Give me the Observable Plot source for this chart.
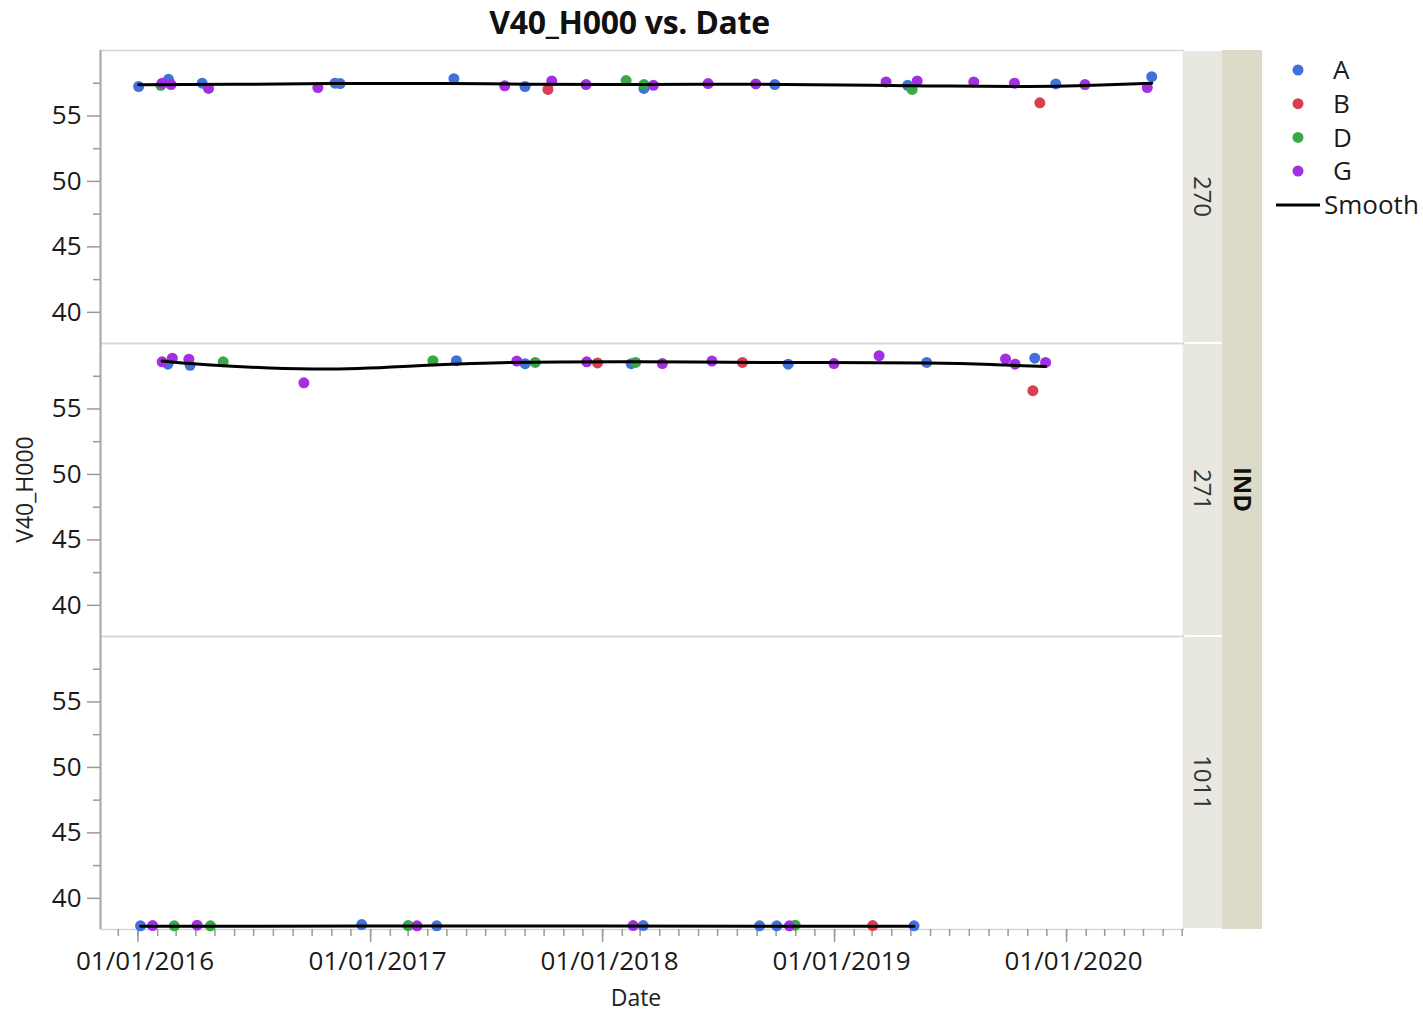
<!DOCTYPE html>
<html>
<head>
<meta charset="utf-8">
<script src="https://cdn.jsdelivr.net/npm/d3@7"></script>
<script src="https://cdn.jsdelivr.net/npm/@observablehq/plot@0.6"></script>
<style>
  body { margin: 0; background: #fff; font-family: "Open Sans", sans-serif; }
  #wrap { position: relative; width: 1423px; height: 1012px; }
  #title { position: absolute; left: 88px; width: 1083px; top: 2px; height: 40px; text-align: center;
           font-weight: bold; font-size: 32px; line-height: 40px; color: #111; letter-spacing: -0.3px; }
  #chart { position: absolute; left: 0; top: 40px; }
  #xtitle { position: absolute; left: 536px; width: 200px; top: 982px; height: 30px; text-align: center;
            font-size: 23px; line-height: 30px; color: #222; }
</style>
</head>
<body>
<div id="wrap">
  <div id="title">V40_H000 vs. Date</div>
  <div id="chart"></div>
  <div id="xtitle">Date</div>
</div>
<script>
// ---- categories ----
const groups = ["A", "B", "D", "G"];
const groupColors = ["#4172dc", "#d9404f", "#39a845", "#a22fe0"];
const panels = ["270", "271", "1011"];
const facetTitle = "IND";
const yTicks = [40, 45, 50, 55];
const yMinorTicks = [42.5, 47.5, 52.5, 57.5];
const xTicks = ["2016-01-01", "2017-01-01", "2018-01-01", "2019-01-01", "2020-01-01"];
const xDomain = ["2015-11-03", "2020-07-03"];
const yDomain = [37.62, 60.0];

// ---- panel 270 ----
const p270Date = ["2016-01-02","2016-02-18","2016-04-11","2016-11-06","2016-11-14","2017-05-12","2017-09-01","2018-03-07","2018-09-29","2019-04-26","2019-12-15","2020-05-14",
  "2017-10-07","2019-11-20",
  "2016-02-06","2018-02-07","2018-03-07","2019-05-03",
  "2016-02-08","2016-02-22","2016-04-21","2016-10-10","2017-07-31","2017-10-13","2017-12-06","2018-03-22","2018-06-16","2018-08-30","2019-03-23","2019-05-11","2019-08-08","2019-10-11","2020-01-30","2020-05-07"];
const p270Group = ["A","A","A","A","A","A","A","A","A","A","A","A",
  "B","B",
  "D","D","D","D",
  "G","G","G","G","G","G","G","G","G","G","G","G","G","G","G","G"];
const p270Value = [57.25,57.8,57.5,57.5,57.47,57.85,57.25,57.1,57.4,57.34,57.45,58.0,
  57.03,56.0,
  57.34,57.7,57.4,57.03,
  57.5,57.4,57.1,57.17,57.3,57.67,57.4,57.34,57.47,57.45,57.6,57.67,57.6,57.5,57.4,57.17];

// ---- panel 271 ----
const p271Date = ["2016-02-17","2016-03-23","2017-05-16","2017-09-01","2018-02-15","2018-10-20","2019-05-26","2019-11-12",
  "2017-12-24","2018-08-09","2019-11-09",
  "2016-05-14","2017-04-09","2017-09-17","2018-02-22",
  "2016-02-08","2016-02-24","2016-03-21","2016-09-18","2017-08-19","2017-12-07","2018-04-05","2018-06-22","2018-12-31","2019-03-12","2019-09-27","2019-10-12","2019-11-29"];
const p271Group = ["A","A","A","A","A","A","A","A",
  "B","B","B",
  "D","D","D","D",
  "G","G","G","G","G","G","G","G","G","G","G","G","G"];
const p271Value = [58.42,58.33,58.69,58.46,58.46,58.42,58.55,58.88,
  58.52,58.55,56.4,
  58.6,58.69,58.55,58.55,
  58.6,58.88,58.8,57.0,58.66,58.6,58.47,58.66,58.47,59.07,58.82,58.42,58.55];

// ---- panel 1011 ----
const p1011Date = ["2016-01-05","2016-12-18","2017-04-15","2018-03-06","2018-09-05","2018-10-02","2019-05-06",
  "2019-03-02",
  "2016-02-27","2016-04-24","2017-03-01","2018-10-31",
  "2016-01-24","2016-04-03","2017-03-15","2018-02-18","2018-10-22"];
const p1011Group = ["A","A","A","A","A","A","A",
  "B",
  "D","D","D","D",
  "G","G","G","G","G"];
const p1011Value = [37.9,38.0,37.9,37.92,37.9,37.9,37.9,
  37.92,
  37.9,37.9,37.92,37.95,
  37.92,37.95,37.9,37.92,37.9];

// ---- smooth curves ----
const s270Date = ["2016-01-02","2016-06-01","2016-11-01","2017-05-01","2017-09-01","2018-03-01","2018-09-01","2019-03-01","2019-07-01","2019-11-01","2020-02-01","2020-05-14"];
const s270Value = [57.39,57.42,57.47,57.48,57.42,57.40,57.42,57.35,57.28,57.25,57.32,57.5];
const s271Date = ["2016-02-08","2016-04-18","2016-10-01","2017-02-21","2017-07-12","2018-02-23","2018-10-01","2019-05-26","2019-09-13","2019-11-29"];
const s271Value = [58.66,58.38,58.05,58.25,58.52,58.6,58.55,58.52,58.38,58.25];
const s1011Date = ["2016-01-05","2017-01-01","2018-01-01","2019-05-06"];
const s1011Value = [37.86,37.88,37.88,37.87];

// ---- build tables ----
const pts = [];
const smooth = [];
function addPts(panel, ds, gs, vs) { ds.forEach((d, i) => pts.push({panel, date: new Date(d), group: gs[i], value: vs[i]})); }
function addSmooth(panel, ds, vs) { ds.forEach((d, i) => smooth.push({panel, date: new Date(d), value: vs[i]})); }
addPts("270", p270Date, p270Group, p270Value);
addPts("271", p271Date, p271Group, p271Value);
addPts("1011", p1011Date, p1011Group, p1011Value);
addSmooth("270", s270Date, s270Value);
addSmooth("271", s271Date, s271Value);
addSmooth("1011", s1011Date, s1011Value);

const W = 1423, H = 942;
const chart = Plot.plot({
  width: W, height: H,
  marginTop: 10, marginLeft: 100, marginRight: 240, marginBottom: 53,
  style: {fontFamily: "Open Sans, sans-serif", fontSize: "26px", color: "#1a1a1a", background: "transparent"},
  x: {type: "utc", domain: xDomain.map(d => new Date(d))},
  y: {domain: yDomain},
  fy: {domain: panels, padding: 0, axis: null},
  color: {domain: groups, range: groupColors},
  marks: [
    Plot.frame({stroke: "#d6d6d6", strokeWidth: 1.5}),
    Plot.ruleX([new Date(xDomain[0])], {stroke: "#a8a8a8", strokeWidth: 2}),
    Plot.axisY({ticks: yTicks, tickSize: 13, tickPadding: 6, label: null, stroke: "#9a9a9a", strokeWidth: 1.5, fontSize: 26, fill: "#1a1a1a"}),
    Plot.axisY({ticks: yMinorTicks, tickSize: 7, text: null, label: null, stroke: "#9a9a9a", strokeWidth: 1.5}),
    Plot.axisX({ticks: xTicks.map(d => new Date(d)), tickSize: 13, text: null, label: null, stroke: "#9a9a9a", strokeWidth: 1.5}),
    Plot.axisX({ticks: xTicks.map(d => new Date(d)), tickFormat: d3.utcFormat("%m/%d/%Y"), tickSize: 0, tickPadding: 22, dx: 7, label: null, fontSize: 26, fill: "#1a1a1a"}),
    Plot.axisX({ticks: d3.utcMonth.every(1), tickSize: 7, text: null, label: null, stroke: "#9a9a9a", strokeWidth: 1.5}),
    Plot.dot(pts, {x: "date", y: "value", fy: "panel", fill: "group", r: 5.5}),
    Plot.line(smooth, {x: "date", y: "value", fy: "panel", z: "panel", curve: "natural", stroke: "black", strokeWidth: 3})
  ]
});
document.getElementById("chart").appendChild(chart);

// ---- decorations: facet strips, y title, legend ----
const svg = d3.select(chart);
const fyS = chart.scale("fy");
const plotTop = 10, plotBottom = H - 53, plotRight = W - 240;
const bw = (fyS && fyS.bandwidth) ? fyS.bandwidth : (plotBottom - plotTop) / panels.length;
const topOf = p => (fyS && fyS.apply) ? fyS.apply(p) : plotTop + panels.indexOf(p) * bw;

const deco = svg.append("g").attr("font-family", "Open Sans, sans-serif").attr("text-anchor", "start");
deco.append("rect").attr("x", plotRight + 39).attr("y", plotTop).attr("width", 40).attr("height", plotBottom - plotTop).attr("fill", "#dcdbca");
panels.forEach(p => {
  const y0 = topOf(p);
  deco.append("rect").attr("x", plotRight).attr("y", y0 + 1).attr("width", 39).attr("height", bw - 2).attr("fill", "#e8e8e0");
  deco.append("text").attr("transform", `translate(${plotRight + 19},${y0 + bw / 2}) rotate(90)`)
    .attr("text-anchor", "middle").attr("dy", "0.35em").attr("font-size", 24).attr("fill", "#333").text(p);
});
deco.append("text").attr("transform", `translate(${plotRight + 59},${(plotTop + plotBottom) / 2}) rotate(90)`)
  .attr("text-anchor", "middle").attr("dy", "0.35em").attr("font-size", 24).attr("font-weight", "bold").attr("fill", "#111").text(facetTitle);

deco.append("text").attr("transform", `translate(25,${(plotTop + plotBottom) / 2}) rotate(-90)`)
  .attr("text-anchor", "middle").attr("dy", "0.35em").attr("font-size", 23).attr("fill", "#222").text("V40_H000");

// legend
const lg = deco.append("g").attr("text-anchor", "start");
groups.forEach((g, i) => {
  const y = 30 + i * 33.7;
  lg.append("circle").attr("cx", 1298).attr("cy", y).attr("r", 5.5).attr("fill", groupColors[i]);
  lg.append("text").attr("x", 1333).attr("y", y).attr("dy", "0.35em").attr("font-size", 26).attr("fill", "#1a1a1a").text(g);
});
lg.append("line").attr("x1", 1276).attr("x2", 1320).attr("y1", 165).attr("y2", 165).attr("stroke", "black").attr("stroke-width", 3);
lg.append("text").attr("x", 1324).attr("y", 165).attr("dy", "0.35em").attr("font-size", 26).attr("fill", "#1a1a1a").text("Smooth");
</script>
</body>
</html>
